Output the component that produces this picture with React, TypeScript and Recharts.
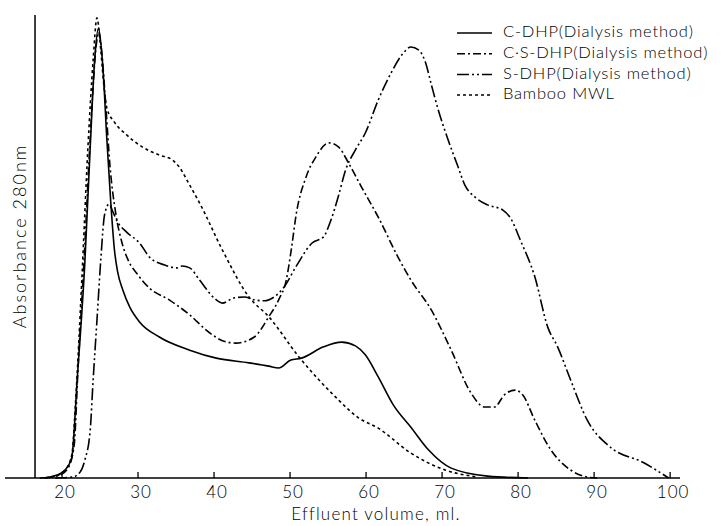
import React from 'react';
import { LineChart, Line, XAxis, YAxis, ReferenceLine } from 'recharts';

// effluent volume (ml) / absorbance (relative units)
const cdhpVol = [17.5, 18.4, 20.1, 20.7, 21.3, 22.0, 23.0, 23.7, 24.3, 24.8, 25.4, 25.9, 26.4, 26.9, 27.3, 28.0, 28.9, 30.2, 32.8, 36.8, 40.3, 44.6, 47.2, 48.5, 50.1, 51.5, 54.4, 56.8, 58.6, 59.9, 61.6, 63.6, 65.9, 68.2, 71.2, 76.0, 81.3];
const cdhpAbs = [0, 0.002, 0.013, 0.023, 0.045, 0.21, 0.457, 0.7, 0.89, 0.957, 0.868, 0.72, 0.59, 0.485, 0.44, 0.4, 0.364, 0.332, 0.3, 0.272, 0.255, 0.245, 0.238, 0.234, 0.251, 0.255, 0.279, 0.289, 0.281, 0.262, 0.215, 0.155, 0.108, 0.06, 0.021, 0.004, 0];

const csdhpVol = [17.8, 19.7, 20.8, 21.6, 22.1, 22.9, 23.7, 24.5, 24.8, 25.2, 25.8, 26.3, 27.1, 27.9, 28.8, 29.8, 31.5, 34.1, 36.8, 39.4, 41.3, 42.9, 45.3, 47.2, 48.5, 49.5, 50.2, 50.8, 52.1, 53.4, 55.1, 56.4, 57.7, 59.4, 61.6, 64.2, 65.9, 68.6, 71.2, 73.8, 75.6, 76.9, 78.2, 79.6, 80.6, 82.2, 84.3, 86.9, 89.1, 90.4];
const csdhpAbs = [0, 0.006, 0.021, 0.07, 0.23, 0.464, 0.72, 0.92, 0.949, 0.91, 0.783, 0.666, 0.56, 0.5, 0.46, 0.436, 0.404, 0.379, 0.347, 0.309, 0.291, 0.287, 0.3, 0.343, 0.379, 0.421, 0.49, 0.56, 0.64, 0.683, 0.713, 0.704, 0.67, 0.619, 0.555, 0.47, 0.421, 0.357, 0.272, 0.181, 0.151, 0.151, 0.177, 0.187, 0.177, 0.123, 0.06, 0.017, 0.002, 0];

const sdhpVol = [19.1, 21.4, 22.4, 23.0, 23.7, 24.1, 24.6, 25.1, 25.6, 26.2, 26.7, 27.3, 28.5, 30.2, 31.5, 33.5, 35.1, 35.8, 36.8, 38.1, 40.0, 41.1, 42.6, 44.0, 45.3, 46.6, 47.9, 49.2, 50.9, 52.9, 54.4, 55.3, 56.4, 57.3, 58.6, 59.9, 61.6, 63.3, 64.9, 65.9, 66.9, 67.8, 68.6, 69.5, 70.8, 72.1, 73.0, 74.3, 76.0, 78.0, 79.0, 80.3, 82.2, 83.9, 85.2, 86.9, 89.1, 92.1, 96.6, 99.8];
const sdhpAbs = [0, 0.002, 0.013, 0.038, 0.1, 0.21, 0.336, 0.464, 0.56, 0.583, 0.566, 0.545, 0.523, 0.5, 0.47, 0.453, 0.447, 0.451, 0.447, 0.421, 0.383, 0.372, 0.383, 0.385, 0.379, 0.377, 0.385, 0.406, 0.453, 0.5, 0.513, 0.545, 0.602, 0.655, 0.698, 0.734, 0.804, 0.862, 0.904, 0.917, 0.911, 0.885, 0.836, 0.783, 0.719, 0.662, 0.623, 0.598, 0.581, 0.57, 0.553, 0.506, 0.428, 0.321, 0.279, 0.209, 0.123, 0.066, 0.032, 0];

const mwlVol = [17.1, 19.1, 20.4, 21.3, 21.8, 22.6, 23.4, 24.1, 24.6, 25.1, 25.5, 25.9, 26.9, 28.5, 30.6, 32.8, 34.5, 35.4, 36.8, 38.1, 41.1, 44.6, 47.2, 51.2, 56.0, 59.0, 61.6, 65.9, 70.4, 74.7];
const mwlAbs = [0, 0.004, 0.017, 0.05, 0.166, 0.42, 0.7, 0.89, 0.979, 0.91, 0.836, 0.787, 0.757, 0.73, 0.704, 0.687, 0.677, 0.662, 0.623, 0.585, 0.485, 0.385, 0.343, 0.257, 0.172, 0.128, 0.106, 0.053, 0.017, 0.002];

const xTicks = [20, 30, 40, 50, 60, 70, 80, 90, 100];

const legendLabels = ['C-DHP(Dialysis method)', 'C·S-DHP(Dialysis method)', 'S-DHP(Dialysis method)', 'Bamboo MWL'];
const dashes = ['', '8 3 2 3', '12 3 2 3 2 3', '3 3'];

const toPoints = (vol: number[], abs: number[]) => vol.map((x, i) => ({ x, v: abs[i] }));

const series = [
  toPoints(cdhpVol, cdhpAbs),
  toPoints(csdhpVol, csdhpAbs),
  toPoints(sdhpVol, sdhpAbs),
  toPoints(mwlVol, mwlAbs),
];

const FONT = 'Lato, "DejaVu Sans", sans-serif';

const XTick = (props: any) => {
  const { x, y, payload } = props;
  return (
    <g>
      <line x1={x} x2={x} y1={y} y2={y - 6} stroke="#000" strokeWidth={1.3} />
      <text x={x + 3} y={y + 20} textAnchor="middle" fontSize={17} fontWeight={300} letterSpacing={1} fontFamily={FONT} fill="#000">
        {payload.value}
      </text>
    </g>
  );
};

export default function App() {
  return (
    <div style={{ position: 'absolute', left: 0, top: 0, width: 723, height: 526, background: '#fff' }}>
      <LineChart width={723} height={526} margin={{ top: 15, right: 43, bottom: 0, left: 5 }}>
        <XAxis
          type="number"
          dataKey="x"
          domain={[12.5, 101.3]}
          ticks={xTicks}
          tick={<XTick />}
          tickLine={false}
          tickSize={0}
          tickMargin={0}
          height={48}
          axisLine={{ stroke: '#000', strokeWidth: 1.5 }}
          allowDuplicatedCategory={false}
        />
        <YAxis hide domain={[0, 0.985]} />
        <ReferenceLine x={16.45} stroke="#000" strokeWidth={1.5} />
        {series.map((d, i) => (
          <Line
            key={i}
            data={d}
            dataKey="v"
            type="monotone"
            stroke="#000"
            strokeWidth={1.6}
            strokeDasharray={dashes[i] || undefined}
            dot={false}
            isAnimationActive={false}
          />
        ))}
      </LineChart>
      <svg width={723} height={526} style={{ position: 'absolute', left: 0, top: 0, pointerEvents: 'none' }}>
        <text x={376} y={516} textAnchor="middle" dominantBaseline="middle" fontSize={17} fontWeight={300} letterSpacing={1.2} fontFamily={FONT} fill="#000">
          Effluent volume, ml.
        </text>
        <text
          x={22}
          y={236}
          transform="rotate(-90 22 236)"
          textAnchor="middle"
          dominantBaseline="middle"
          fontSize={18}
          fontWeight={300}
          letterSpacing={2}
          fontFamily={FONT}
          fill="#000"
        >
          Absorbance  280nm
        </text>
        {legendLabels.map((label, i) => {
          const y = 33 + i * 20.7;
          return (
            <g key={label}>
              <line x1={457} x2={492} y1={y} y2={y} stroke="#000" strokeWidth={1.5} strokeDasharray={dashes[i] || undefined} />
              <text x={503} y={y} dominantBaseline="middle" fontSize={16.5} fontWeight={300} letterSpacing={0.8} fontFamily={FONT} fill="#000">
                {label}
              </text>
            </g>
          );
        })}
      </svg>
    </div>
  );
}
